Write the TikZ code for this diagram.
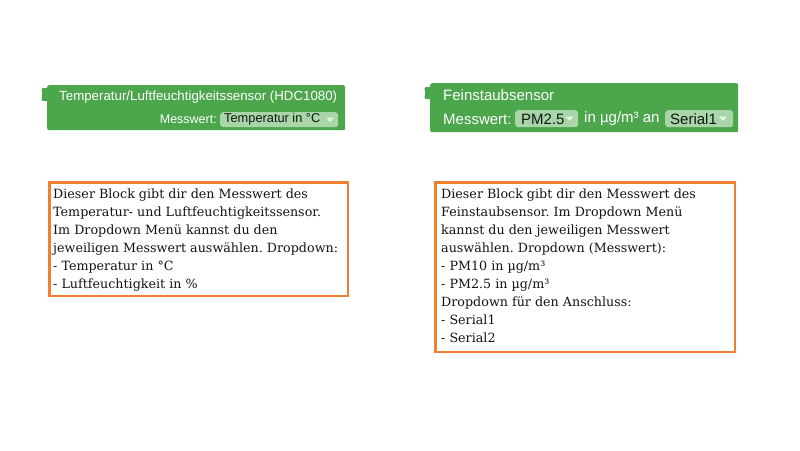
\documentclass[tikz,border=0pt]{standalone}
\usepackage{fontspec}
\setmainfont{DejaVu Serif}
\newfontfamily\blk{Liberation Sans}
\frenchspacing
\definecolor{blockgreen}{RGB}{76,166,76}
\definecolor{fieldgreen}{RGB}{168,214,168}
\definecolor{boxorange}{RGB}{240,128,48}
\definecolor{txt}{RGB}{20,20,20}
\tikzset{
  blockbox/.style={fill=blockgreen, rounded corners=2pt, inner sep=0pt, anchor=north west},
  fieldbox/.style={fill=fieldgreen, rounded corners=3pt, inner sep=0pt, anchor=north west, minimum height=15pt},
  btitle/.style={font=\blk\fontsize{13.3}{14}\selectfont, text=white, inner sep=0pt, anchor=west},
  btext/.style={font=\blk\fontsize{12.5}{14}\selectfont, text=white, inner sep=0pt, anchor=west},
  ftext/.style={font=\blk\fontsize{12.8}{14}\selectfont, text=txt, inner sep=0pt, anchor=west},
  btextB/.style={font=\blk\fontsize{15}{16}\selectfont, text=white, inner sep=0pt, anchor=west},
  ftextB/.style={font=\blk\fontsize{15}{16}\selectfont, text=txt, inner sep=0pt, anchor=west},
  obox/.style={draw=boxorange, line width=2.5pt, inner sep=0pt, anchor=north west},
  desc/.style={font=\fontsize{12.7}{18}\selectfont, text=txt, align=left, inner sep=0pt, anchor=north west},
  ddarrow/.style={fill=white!70!fieldgreen}
}
\begin{document}
\begin{tikzpicture}[x=1pt,y=-1pt]
\useasboundingbox (0,0) rectangle (800,450);
\fill[white] (0,0) rectangle (800,450);

% ---------- left block ----------
\node[blockbox, minimum width=298pt, minimum height=45pt] (blockA) at (47,85) {};
\fill[blockgreen] (48,88) -- (44,88) .. controls (41,88) and (41,90) .. (42,92) -- (42,97) .. controls (41,99) and (41,101) .. (44,101) -- (48,101) -- cycle;
\node[btitle] (titleA) at (59,97) {Temperatur/Luftfeuchtigkeitssensor (HDC1080)};
\node[fieldbox, minimum width=118pt] (fieldA) at (220,112) {};
\node[btext, anchor=east] (mwA) at (217,119.5) {Messwert:};
\node[ftext] (fieldAtext) at (224,119.5) {Temperatur in °C};
\fill[ddarrow] (326,117.5) -- (334,117.5) -- (330,122) -- cycle;

% ---------- right block ----------
\node[blockbox, minimum width=308pt, minimum height=49pt] (blockB) at (430,83) {};
\fill[blockgreen] (431,87) -- (427,87) .. controls (424,87) and (424,89) .. (425,91) -- (425,95) .. controls (424,97) and (424,99) .. (427,99) -- (431,99) -- cycle;
\node[btextB] (titleB) at (443,95.5) {Feinstaubsensor};
\node[btextB] (mwB) at (443,119) {Messwert:};
\node[fieldbox, minimum width=63pt, minimum height=17pt] (fieldB1) at (515,110) {};
\node[ftextB] (fieldB1text) at (521,119) {PM2.5};
\fill[ddarrow] (565.5,116.5) -- (573.5,116.5) -- (569.5,121) -- cycle;
\node[btextB] (unitB) at (584,119) {in µg/m³ an};
\node[fieldbox, minimum width=68pt, minimum height=17pt] (fieldB2) at (665,110) {};
\node[ftextB] (fieldB2text) at (670,119) {Serial1};
\fill[ddarrow] (719,116.5) -- (727,116.5) -- (723,121) -- cycle;

% ---------- left description ----------
\node[obox, minimum width=298.5pt, minimum height=113.5pt] (boxA) at (48.25,181.25) {};
\node[desc] (descA) at (53,189) {Dieser Block gibt dir den Messwert des\\
Temperatur- und Luftfeuchtigkeitssensor.\\
Im Dropdown Menü kannst du den\\
jeweiligen Messwert auswählen. Dropdown:\\
- Temperatur in °C\\
- Luftfeuchtigkeit in \%};

% ---------- right description ----------
\node[obox, minimum width=299.5pt, minimum height=169.5pt] (boxB) at (434.25,181.25) {};
\node[desc] (descB) at (441,189) {Dieser Block gibt dir den Messwert des\\
Feinstaubsensor. Im Dropdown Menü\\
kannst du den jeweiligen Messwert\\
auswählen. Dropdown (Messwert):\\
- PM10 in µg/m³\\
- PM2.5 in µg/m³\\
Dropdown für den Anschluss:\\
- Serial1\\
- Serial2};
\end{tikzpicture}
\end{document}
